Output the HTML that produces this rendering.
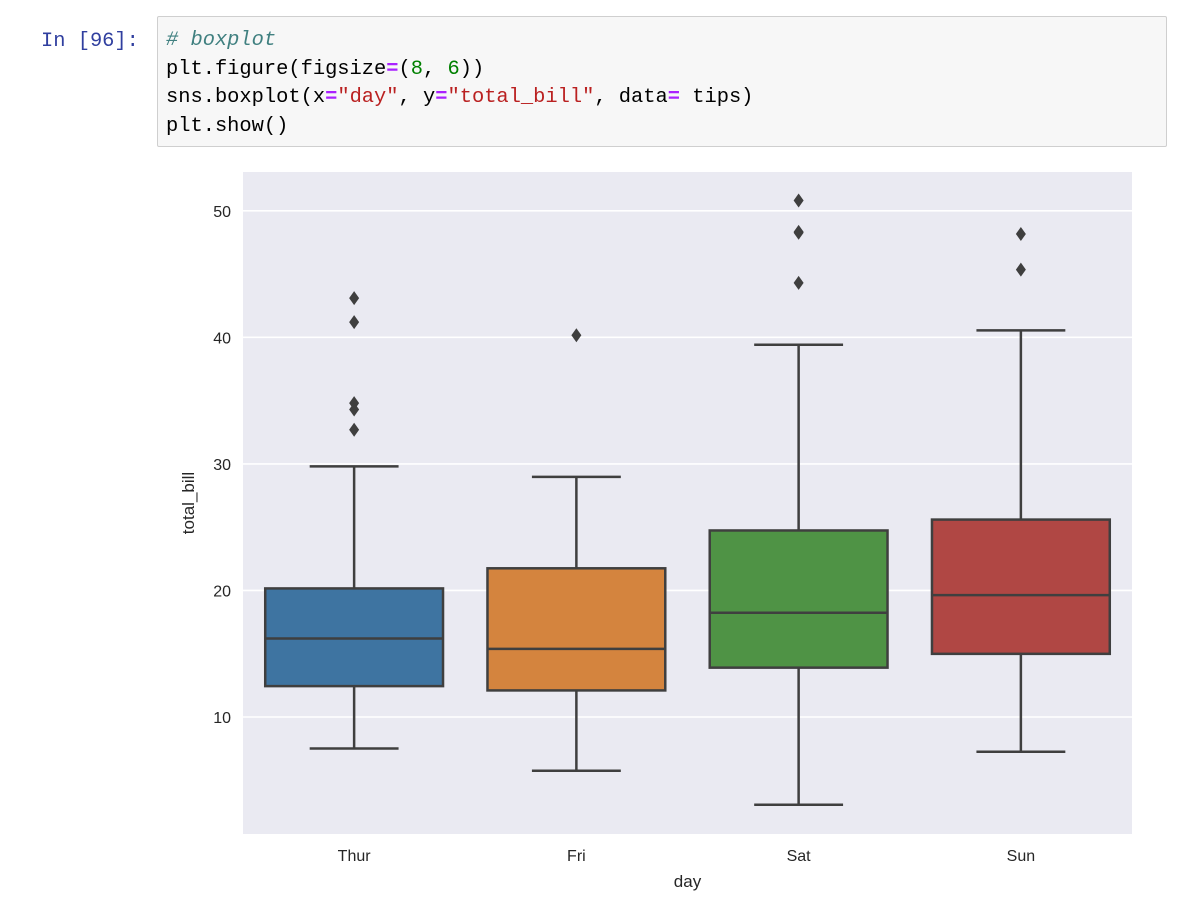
<!DOCTYPE html>
<html><head><meta charset="utf-8"><style>
body{margin:0;width:1182px;height:902px;background:#fff;position:relative;overflow:hidden;font-family:"Liberation Sans",sans-serif}
.prompt{position:absolute;left:41px;top:28px;font:20.4px/28.5px "Liberation Mono",monospace;color:#303f9f}
.cell{position:absolute;left:157px;top:16px;width:1008px;height:129px;border:1px solid #cfcfcf;border-radius:2px;background:#f7f7f7}
.code{position:absolute;left:166px;top:27px;font:20.4px/28.5px "Liberation Mono",monospace;color:#000;white-space:pre;margin:0}
.c{color:#408080;font-style:italic}.o{color:#aa22ff;font-weight:bold}.n{color:#008000}.s{color:#ba2121}
</style></head><body>
<div class="prompt">In [96]:</div>
<div class="cell"></div>
<pre class="code"><span class="c"># boxplot</span>
plt.figure(figsize<span class="o">=</span>(<span class="n">8</span>, <span class="n">6</span>))
sns.boxplot(x<span class="o">=</span><span class="s">"day"</span>, y<span class="o">=</span><span class="s">"total_bill"</span>, data<span class="o">=</span> tips)
plt.show()</pre>
<svg id="chart" width="1182" height="902" style="position:absolute;left:0;top:0"></svg>
<script>
const categories=["Thur","Fri","Sat","Sun"];
const colors=["#3e74a1","#d4843e","#4f9345","#b04744"];
const whiskerLow=[7.51,5.75,3.07,7.25];
const q1=[12.44,12.1,13.9,14.99];
const median=[16.2,15.38,18.24,19.63];
const q3=[20.16,21.75,24.74,25.6];
const whiskerHigh=[29.8,28.97,39.42,40.55];
const outliers=[[43.1,41.2,34.8,34.3,32.7],[40.17],[50.81,48.33,48.27,44.3],[48.17,45.35]];
const yTicks=[10,20,30,40,50];

const svg=document.getElementById('chart');
const NS='http://www.w3.org/2000/svg';
const L=243,R=1132,T=172,B=834;
function y(v){return 717-(v-10)*12.655;}
const step=(R-L)/categories.length;
function x(i){return L+step*(i+0.5);}
function mk(tag,attrs,parent){const e=document.createElementNS(NS,tag);for(const k in attrs)e.setAttribute(k,attrs[k]);(parent||svg).appendChild(e);return e;}

const bg=mk('rect',{x:L,y:T,width:R-L,height:B-T,fill:'#eaeaf2'});


yTicks.forEach(t=>{
  const g=mk('line',{x1:L,x2:R,y1:y(t),y2:y(t),stroke:'#fff','stroke-width':1.6});
  
  
  const tx=mk('text',{x:L-12,y:y(t)+6,'text-anchor':'end','font-size':16,fill:'#262626','font-family':'Liberation Sans, sans-serif'});
  tx.textContent=t;
  
  
});
const ec='#3f3f3f',bw=step*0.8;
categories.forEach((c,i)=>{
  const cx=x(i);
  const g=mk('g',{});
  
  
  mk('line',{x1:cx,x2:cx,y1:y(whiskerLow[i]),y2:y(q1[i]),stroke:ec,'stroke-width':2.5},g);
  mk('line',{x1:cx,x2:cx,y1:y(q3[i]),y2:y(whiskerHigh[i]),stroke:ec,'stroke-width':2.5},g);
  mk('line',{x1:cx-bw/4,x2:cx+bw/4,y1:y(whiskerLow[i]),y2:y(whiskerLow[i]),stroke:ec,'stroke-width':2.5},g);
  mk('line',{x1:cx-bw/4,x2:cx+bw/4,y1:y(whiskerHigh[i]),y2:y(whiskerHigh[i]),stroke:ec,'stroke-width':2.5},g);
  mk('rect',{x:cx-bw/2,y:y(q3[i]),width:bw,height:y(q1[i])-y(q3[i]),fill:colors[i],stroke:ec,'stroke-width':2.5},g);
  mk('line',{x1:cx-bw/2,x2:cx+bw/2,y1:y(median[i]),y2:y(median[i]),stroke:ec,'stroke-width':2.5},g);
  outliers[i].forEach(v=>{
    const d=mk('path',{d:`M${cx},${y(v)-7} L${cx+5},${y(v)} L${cx},${y(v)+7} L${cx-5},${y(v)} Z`,fill:ec});
    
    
  });
  const tx=mk('text',{x:cx,y:B+27,'text-anchor':'middle','font-size':16,fill:'#262626','font-family':'Liberation Sans, sans-serif'});
  tx.textContent=c;
  
  
});
const xt=mk('text',{x:(L+R)/2,y:B+53,'text-anchor':'middle','font-size':17,fill:'#262626','font-family':'Liberation Sans, sans-serif'});
xt.textContent='day';


const yt=mk('text',{x:0,y:0,transform:`translate(194,${(T+B)/2}) rotate(-90)`,'text-anchor':'middle','font-size':17,fill:'#262626','font-family':'Liberation Sans, sans-serif'});
yt.textContent='total_bill';


</script>
</body></html>
